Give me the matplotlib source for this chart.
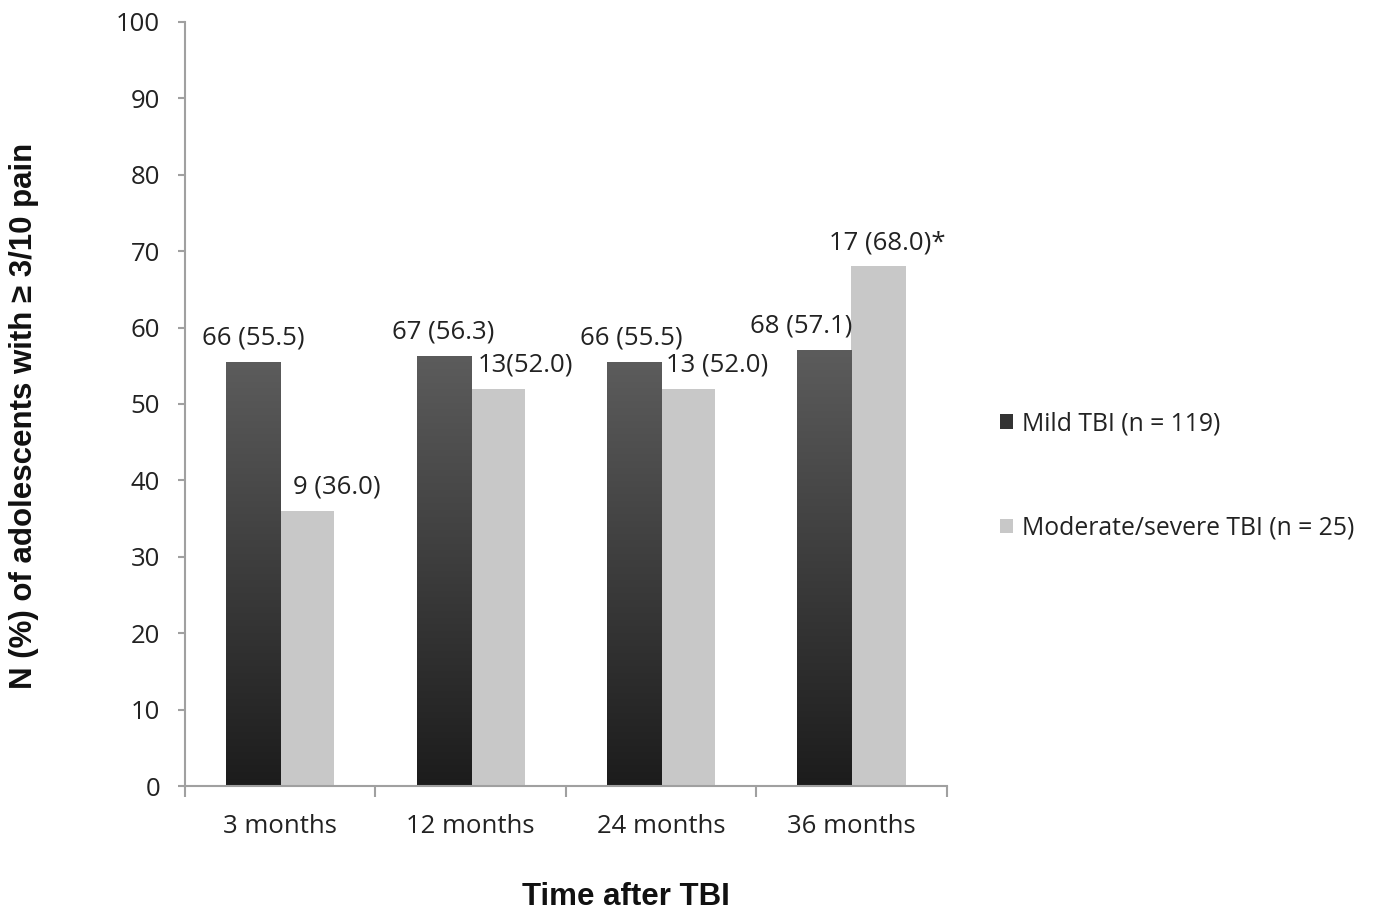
import numpy as np
import matplotlib.pyplot as plt
from matplotlib.patches import Patch
from matplotlib.colors import LinearSegmentedColormap

# data
timepoints = ['3 months', '12 months', '24 months', '36 months']
mild_pct = [55.5, 56.3, 55.5, 57.1]
modsev_pct = [36.0, 52.0, 52.0, 68.0]
mild_labels = ['66 (55.5)', '67 (56.3)', '66 (55.5)', '68 (57.1)']
modsev_labels = ['9 (36.0)', '13(52.0)', '13 (52.0)', '17 (68.0)*']
series_names = ['Mild TBI (n = 119)', 'Moderate/severe TBI (n = 25)']

plt.rcParams['font.family'] = ['Open Sans', 'DejaVu Sans']
fs = 18.5

fig = plt.figure(figsize=(13.76, 9.14), dpi=100)
ax = fig.add_axes([0.1345, 0.140, 0.5535, 0.836])

x = np.arange(len(timepoints))
w = 0.284
light = '#c8c8c8'

mild_bars = ax.bar(x - w / 2, mild_pct, w, color='none', edgecolor='none')
ax.bar(x + w / 2, modsev_pct, w, color=light, edgecolor='none')

# vertical gradient on the dark bars
grad = np.linspace(0, 1, 256).reshape(-1, 1)
cmap = LinearSegmentedColormap.from_list('g', ['#1c1c1c', '#5c5c5c'])
for b in mild_bars:
    x0, h = b.get_x(), b.get_height()
    im = ax.imshow(grad, extent=[x0, x0 + w, 0, h], origin='lower', cmap=cmap,
                   aspect='auto', zorder=2)
    im.set_clip_path(b)

ax.set_xlim(-0.5, 3.5)
ax.set_ylim(0, 100)
ax.set_yticks(range(0, 101, 10))
ax.set_xticks(x)
ax.set_xticklabels(timepoints)
ax.set_xticks(np.arange(-0.5, 4, 1), minor=True)

for s in ['top', 'right']:
    ax.spines[s].set_visible(False)
for s in ['left', 'bottom']:
    ax.spines[s].set_color('#a0a0a0')
    ax.spines[s].set_linewidth(1.5)

ax.tick_params(axis='x', which='major', length=0, labelsize=fs, pad=20, colors='#222222')
ax.tick_params(axis='x', which='minor', length=8, width=1.5, color='#a0a0a0', direction='out')
ax.tick_params(axis='y', length=5, width=1.5, color='#a0a0a0', labelsize=fs, pad=13,
               labelcolor='#222222')

fig.text(24 / 1376, 1 - 416 / 914, 'N (%) of adolescents with \u2265 3/10 pain',
         family=['Liberation Sans', 'DejaVu Sans'], fontweight='bold', fontsize=22.5,
         rotation=90, ha='center', va='center', color='#111111')
fig.text(626 / 1376, 1 - 897 / 914, 'Time after TBI', family='Liberation Sans',
         fontweight='bold', fontsize=22.5, ha='center', va='center', color='#111111')

mild_dx = [0, 0, -2, -17]
modsev_dx = [21, 20, 21, 6]
for i in range(len(x)):
    ax.annotate(mild_labels[i], (x[i] - w / 2, mild_pct[i]), xytext=(mild_dx[i], 17),
                textcoords='offset points', ha='center', va='center', fontsize=fs, color='#222222')
    ax.annotate(modsev_labels[i], (x[i] + w / 2, modsev_pct[i]), xytext=(modsev_dx[i], 17),
                textcoords='offset points', ha='center', va='center', fontsize=fs, color='#222222')

handles = [Patch(facecolor='#333333'), Patch(facecolor=light)]
fig.legend(handles, series_names, loc='center left', bbox_to_anchor=(0.7105, 0.479),
           frameon=False, fontsize=17.8, handlelength=0.55, handleheight=0.55,
           handletextpad=0.35, labelspacing=3.2, labelcolor='#222222')

fig.savefig('out.png', dpi=100)
